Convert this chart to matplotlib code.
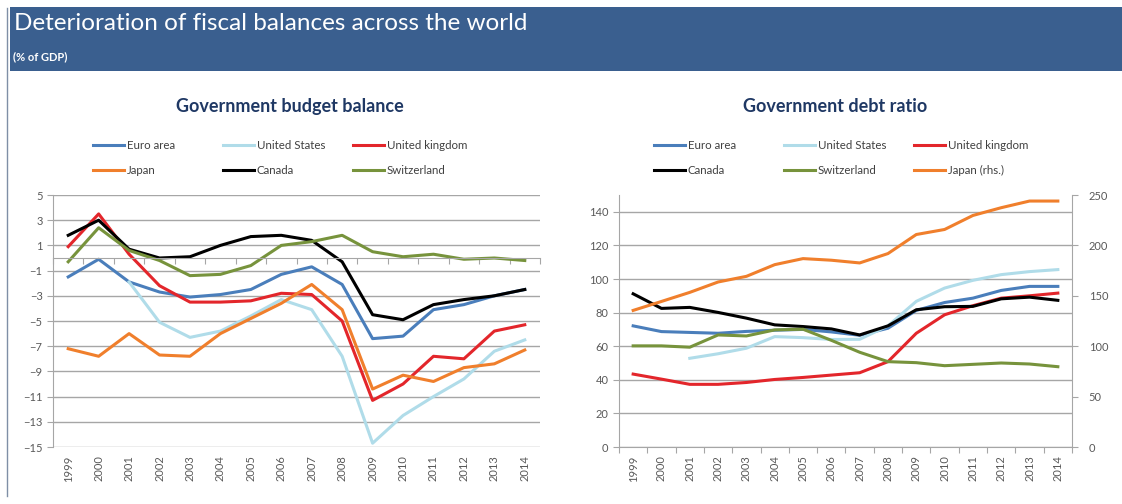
import numpy as np
import matplotlib
matplotlib.use('Agg')
import matplotlib.pyplot as plt
from matplotlib.patches import Rectangle
from matplotlib.lines import Line2D

plt.rcParams['font.family'] = ['Lato', 'DejaVu Sans']

years = [str(y) for y in range(1999, 2015)]
nan = np.nan

# Government budget balance (% of GDP)
bal_euro = [-1.5, -0.1, -1.9, -2.7, -3.1, -2.9, -2.5, -1.3, -0.7, -2.1, -6.4, -6.2, -4.1, -3.7, -3.0, -2.5]
bal_us = [nan, nan, -1.9, -5.1, -6.3, -5.8, -4.6, -3.3, -4.1, -7.8, -14.7, -12.5, -11.0, -9.6, -7.4, -6.5]
bal_uk = [0.9, 3.5, 0.3, -2.2, -3.5, -3.5, -3.4, -2.8, -2.9, -5.0, -11.3, -10.0, -7.8, -8.0, -5.8, -5.3]
bal_japan = [-7.2, -7.8, -6.0, -7.7, -7.8, -6.0, -4.8, -3.6, -2.1, -4.1, -10.4, -9.3, -9.8, -8.7, -8.4, -7.3]
bal_canada = [1.8, 3.0, 0.7, 0.0, 0.1, 1.0, 1.7, 1.8, 1.4, -0.3, -4.5, -4.9, -3.7, -3.3, -3.0, -2.5]
bal_swiss = [-0.3, 2.4, 0.6, -0.2, -1.4, -1.3, -0.6, 1.0, 1.3, 1.8, 0.5, 0.1, 0.3, -0.1, 0.0, -0.2]

# Government debt ratio (% of GDP)
debt_euro = [72.1, 68.7, 68.2, 67.7, 68.8, 69.5, 70.0, 68.5, 66.5, 70.7, 81.3, 86.0, 88.6, 93.2, 95.6, 95.6]
debt_us = [nan, nan, 52.8, 55.5, 58.8, 65.7, 65.1, 64.0, 64.1, 72.1, 86.7, 94.6, 99.2, 102.6, 104.4, 105.6]
debt_uk = [43.4, 40.4, 37.3, 37.3, 38.4, 40.2, 41.4, 42.8, 44.2, 50.8, 67.7, 78.7, 84.1, 88.6, 90.0, 91.6]
debt_canada = [91.2, 82.5, 83.1, 80.1, 76.7, 72.7, 71.7, 70.3, 66.7, 72.1, 81.7, 83.5, 83.7, 88.2, 89.2, 87.3]
debt_swiss = [60.2, 60.2, 59.4, 66.7, 66.1, 69.7, 70.1, 63.5, 56.4, 50.8, 50.2, 48.4, 49.2, 50.0, 49.4, 47.8]
debt_japan = [135.5, 144.4, 153.4, 163.7, 169.3, 180.9, 186.9, 185.3, 182.6, 191.9, 210.8, 215.8, 229.7, 237.4, 244.0, 244.0]

c_euro = '#4A7EBB'
c_us = '#B0DCE9'
c_uk = '#E3262B'
c_japan = '#F07F2C'
c_canada = '#000000'
c_swiss = '#77933C'
grid_c = '#A6A6A6'
txt_c = '#595959'
lw = 2.2

W, H = 1122, 504
fig = plt.figure(figsize=(W / 100, H / 100), dpi=100)

# header band
fig.patches.append(Rectangle((10 / W, 1 - 71 / H), 1 - 10 / W, 64 / H, transform=fig.transFigure,
                             facecolor='#3A5F8F', edgecolor='none', zorder=0))
fig.text(14 / W, 1 - 23 / H, 'Deterioration of fiscal balances across the world', color='white',
         fontsize=17.5, va='center', ha='left')
fig.text(13 / W, 1 - 57 / H, '(% of GDP)', color='white', fontsize=8, fontweight='bold',
         va='center', ha='left')
fig.lines.append(Line2D([7 / W, 7 / W], [0.015, 1 - 8 / H], transform=fig.transFigure,
                        color='#7F8FA6', lw=1))

x = np.arange(len(years))


def style_axes(ax):
    for s in ['top', 'right']:
        ax.spines[s].set_visible(False)
    ax.spines['left'].set_color(grid_c)
    ax.spines['bottom'].set_color(grid_c)
    ax.tick_params(axis='y', colors=grid_c, labelcolor=txt_c, labelsize=8, length=4)
    ax.yaxis.grid(True, color=grid_c, lw=1)
    ax.set_axisbelow(True)
    ax.set_xlim(-0.5, len(years) - 0.5)
    # boundary ticks on the spine
    ax.set_xticks(np.arange(-0.5, len(years) + 0.5, 1))
    ax.set_xticklabels([])
    ax.tick_params(axis='x', colors=grid_c, length=4, direction='out')
    # labels at category positions on the bottom
    sec = ax.secondary_xaxis(0.0)
    sec.set_xticks(x)
    sec.set_xticklabels(years, rotation=90)
    sec.tick_params(length=0, labelsize=8, labelcolor=txt_c, pad=6)
    sec.spines['bottom'].set_visible(False)


def column_legends(ax, handles, labels, xs):
    # one legend per column so the columns sit evenly like the original
    legs = []
    for i, x0 in enumerate(xs):
        leg = ax.legend(handles[2 * i:2 * i + 2], labels[2 * i:2 * i + 2], frameon=False,
                        loc='lower left', bbox_to_anchor=(x0, 1.052), borderpad=0,
                        fontsize=8.3, handlelength=2.7, handletextpad=0.25, labelspacing=1.2,
                        labelcolor='#404040')
        legs.append(leg)
    for leg in legs[:-1]:
        ax.add_artist(leg)


# ---- left: budget balance
ax1 = fig.add_axes([53 / W, 1 - 447 / H, 487 / W, 252 / H])
h_euro, = ax1.plot(x, bal_euro, color=c_euro, lw=lw)
h_us, = ax1.plot(x, bal_us, color=c_us, lw=lw)
h_uk, = ax1.plot(x, bal_uk, color=c_uk, lw=lw)
h_jp, = ax1.plot(x, bal_japan, color=c_japan, lw=lw)
h_ca, = ax1.plot(x, bal_canada, color=c_canada, lw=lw)
h_sw, = ax1.plot(x, bal_swiss, color=c_swiss, lw=lw)
style_axes(ax1)
ax1.set_ylim(-15, 5)
ax1.set_yticks(np.arange(-15, 6, 2))
ax1.spines['bottom'].set_position(('data', 0))
ax1.set_title('Government budget balance', fontsize=13, fontweight='bold', color='#1F3864',
              pad=60, x=(290 - 53) / 487)
column_legends(ax1, [h_euro, h_jp, h_us, h_ca, h_uk, h_sw],
               ['Euro area', 'Japan', 'United States', 'Canada', 'United kingdom', 'Switzerland'],
               [0.07, 0.337, 0.604])

# ---- right: debt ratio
ax2 = fig.add_axes([619 / W, 1 - 447 / H, 453 / W, 252 / H])
ax3 = ax2.twinx()
g_euro, = ax2.plot(x, debt_euro, color=c_euro, lw=lw)
g_us, = ax2.plot(x, debt_us, color=c_us, lw=lw)
g_uk, = ax2.plot(x, debt_uk, color=c_uk, lw=lw)
g_ca, = ax2.plot(x, debt_canada, color=c_canada, lw=lw)
g_sw, = ax2.plot(x, debt_swiss, color=c_swiss, lw=lw)
g_jp, = ax3.plot(x, debt_japan, color=c_japan, lw=lw)
style_axes(ax2)
ax2.set_ylim(0, 150)
ax2.set_yticks(np.arange(0, 141, 20))
ax3.set_ylim(0, 250)
ax3.set_yticks(np.arange(0, 251, 50))
for s in ['top', 'left', 'bottom']:
    ax3.spines[s].set_visible(False)
ax3.spines['right'].set_color(grid_c)
ax3.tick_params(axis='y', colors=grid_c, labelcolor=txt_c, labelsize=8, length=4, pad=8)
ax2.set_title('Government debt ratio', fontsize=13, fontweight='bold', color='#1F3864',
              pad=60, x=(835 - 619) / 453)
column_legends(ax3, [g_euro, g_ca, g_us, g_sw, g_uk, g_jp],
               ['Euro area', 'Canada', 'United States', 'Switzerland', 'United kingdom', 'Japan (rhs.)'],
               [0.064, 0.351, 0.638])

fig.savefig('out.png', dpi=100)
